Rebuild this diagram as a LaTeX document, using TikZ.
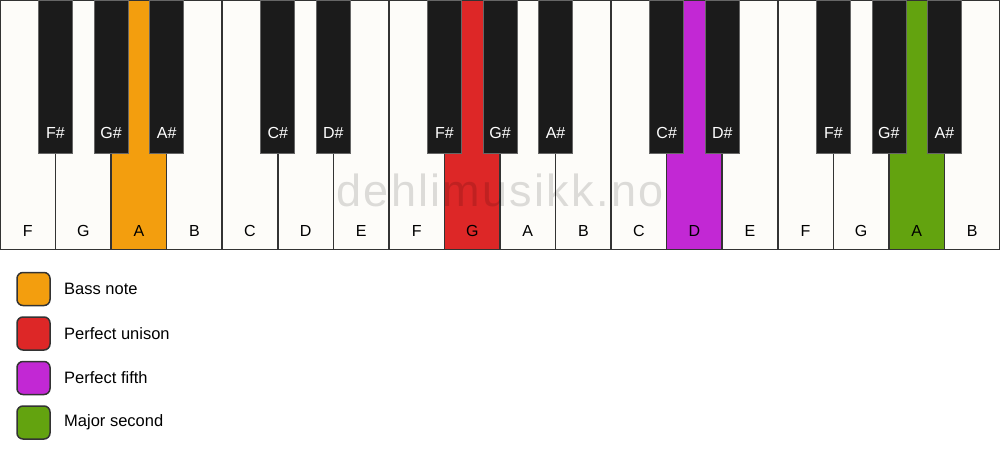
\documentclass[tikz,border=0pt]{standalone}
\usepackage{fontspec}
\setmainfont{Liberation Sans}
\newfontfamily\wmfont[LetterSpace=5]{Liberation Sans}
\definecolor{keywhite}{HTML}{FDFCF9}
\definecolor{keyblack}{HTML}{1B1B1B}
\definecolor{keyline}{HTML}{333333}
\definecolor{bassor}{HTML}{F39E0E}
\definecolor{unired}{HTML}{DD2727}
\definecolor{fifthpurple}{HTML}{C228D4}
\definecolor{secgreen}{HTML}{63A30F}
\begin{document}
\begin{tikzpicture}[x=1pt,y=-1pt,
  wkey/.style={rectangle,draw=keyline,line width=1.5pt,minimum width=55.5556pt,minimum height=249pt,inner sep=0pt,outer sep=0pt},
  bkey/.style={rectangle,draw=black!60,line width=0.8pt,fill=keyblack,minimum width=34pt,minimum height=153pt,inner sep=0pt,outer sep=0pt},
  wlab/.style={font=\fontsize{16}{19}\selectfont,text=black,inner sep=0pt},
  blab/.style={font=\fontsize{16}{19}\selectfont,text=white,inner sep=0pt},
  legbox/.style={rectangle,rounded corners=6pt,draw=keyline,line width=1.5pt,minimum width=33pt,minimum height=33pt,inner sep=0pt},
  legtext/.style={font=\fontsize{16.5}{20}\selectfont,text=black,anchor=west,inner sep=0pt},
  wmark/.style={font=\wmfont\fontsize{45}{54}\selectfont,text=black,text opacity=0.13,inner sep=0pt,anchor=base}
]
\useasboundingbox (0,0) rectangle (1000,461);
\fill[white] (0,0) rectangle (1000,461);
% white keys
\foreach \n/\c [count=\i from 0] in {F/keywhite,G/keywhite,A/bassor,B/keywhite,C/keywhite,D/keywhite,E/keywhite,F/keywhite,G/unired,A/keywhite,B/keywhite,C/keywhite,D/fifthpurple,E/keywhite,F/keywhite,G/keywhite,A/secgreen,B/keywhite}{
  \node[wkey,fill=\c] (w\i) at ({(\i+0.5)*55.5556},125) {};
  \node[wlab] (wl\i) at ({(\i+0.5)*55.5556},231) {\n};
}
% watermark
\node[wmark] (wm) at (500,206.7) {dehlimusikk.no};
% black keys
\foreach \b/\n in {1/F\#,2/G\#,3/A\#,5/C\#,6/D\#,8/F\#,9/G\#,10/A\#,12/C\#,13/D\#,15/F\#,16/G\#,17/A\#}{
  \node[bkey] (b\b) at ({\b*55.5556},76.5) {};
  \node[blab] (bl\b) at ({\b*55.5556},133) {\n};
}
% legend
\foreach \c/\t [count=\k from 0] in {bassor/Bass note,unired/Perfect unison,fifthpurple/Perfect fifth,secgreen/Major second}{
  \node[legbox,fill=\c] (lb\k) at (33.5,{289+44.5*\k}) {};
  \node[legtext] (lt\k) at (64,{289+44.5*\k}) {\t};
}
\end{tikzpicture}
\end{document}
